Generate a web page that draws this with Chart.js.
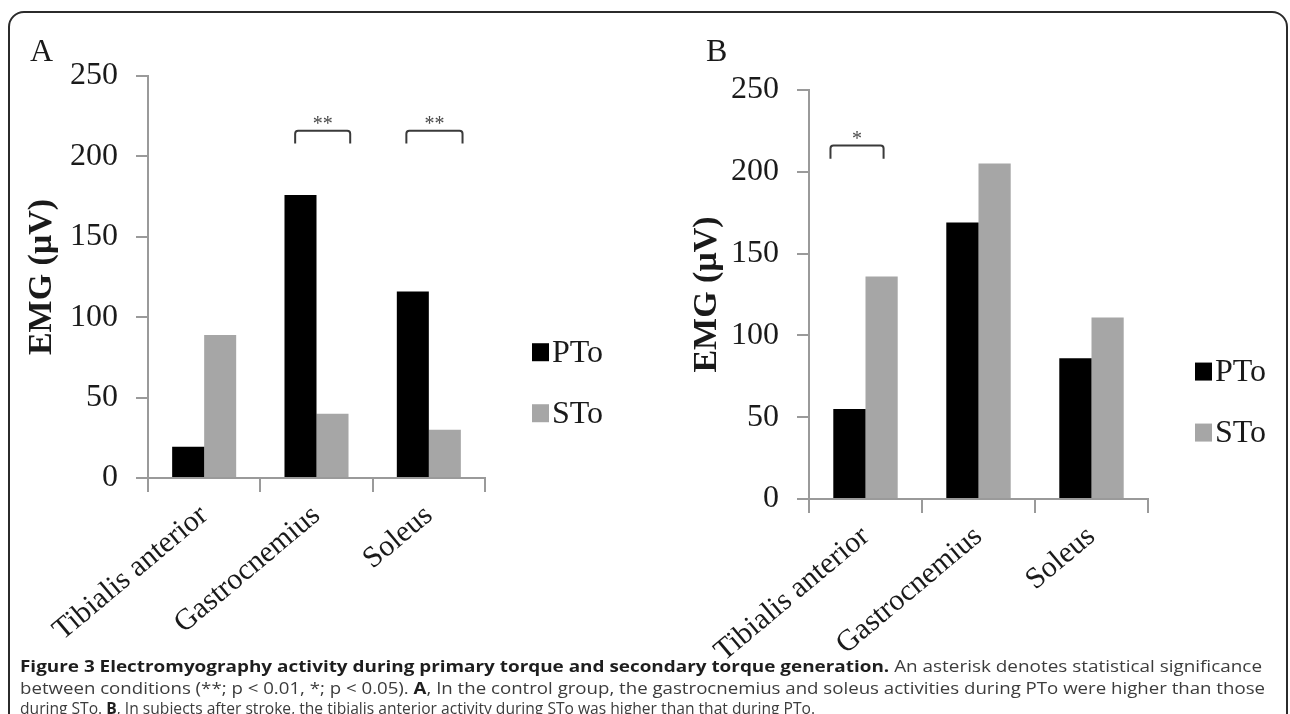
<!DOCTYPE html>
<html>
<head>
<meta charset="utf-8">
<script src="https://cdn.jsdelivr.net/npm/chart.js@4.4.1/dist/chart.umd.min.js"></script>
<style>
  html, body { margin: 0; padding: 0; background: #fff; width: 1290px; height: 714px; overflow: hidden; }
  #frame { position: absolute; left: 8px; top: 11px; width: 1280px; height: 800px; border: 2px solid #2b2b2b; border-radius: 16px; box-sizing: border-box; }
  canvas { position: absolute; top: 0; }
  #chartA { left: 0; }
  #chartB { left: 640px; }
  .panel-label { position: absolute; top: 34px; font: 32px "Liberation Serif", serif; line-height: 32px; color: #1a1a1a; }
  .cap { position: absolute; left: 20px; white-space: nowrap; font: 16px "Open Sans", sans-serif; line-height: 22px; color: #3c3c3c; transform-origin: 0 0; }
  .cap b { color: #1e1e1e; }
</style>
</head>
<body>
<div id="frame"></div>
<canvas id="chartA" width="640" height="680"></canvas>
<canvas id="chartB" width="650" height="680"></canvas>
<div class="panel-label" style="left:30px">A</div>
<div class="panel-label" style="left:706px">B</div>
<div class="cap" data-width="1242" style="top:655px"><b>Figure 3 Electromyography activity during primary torque and secondary torque generation.</b> An asterisk denotes statistical significance</div>
<div class="cap" data-width="1245" style="top:677px">between conditions (**; p &lt; 0.01, *; p &lt; 0.05). <b>A</b>, In the control group, the gastrocnemius and soleus activities during PTo were higher than those</div>
<div class="cap" data-width="795" style="top:697px">during STo. <b>B</b>, In subjects after stroke, the tibialis anterior activity during STo was higher than that during PTo.</div>
<script>
const categories = ["Tibialis anterior", "Gastrocnemius", "Soleus"];
const seriesNames = ["PTo", "STo"];
const seriesColors = ["#000000", "#a6a6a6"];

// panel A: control group
const controlPTo = [19.5, 176, 116];
const controlSTo = [89, 40, 30];
// panel B: subjects after stroke
const strokePTo = [55, 169, 86];
const strokeSTo = [136, 205, 111];

const yTicks = [0, 50, 100, 150, 200, 250];

// significance brackets: [category index, start offset, end offset] in category widths
const controlBrackets = [[1, -0.19, 0.30], [2, -0.20, 0.30]];
const controlStars = ["**", "**"];
const strokeBrackets = [[0, -0.31, 0.16]];
const strokeStars = ["*"];
const bracketLow = 208;
const bracketHigh = 216;

const serif = "'Liberation Serif', 'Times New Roman', serif";
const axisGray = "#9a9a9a";

const sideLegend = {
  id: "sideLegend",
  afterDraw(chart, args, opts) {
    const { ctx, chartArea } = chart;
    const mid = chartArea.top + opts.anchor * (chartArea.bottom - chartArea.top);
    ctx.save();
    chart.data.datasets.forEach((ds, i) => {
      const y = mid + (i - 0.5) * opts.spacing;
      const x = chartArea.right + opts.offsetX;
      ctx.fillStyle = ds.backgroundColor;
      ctx.fillRect(x, y - 9, 17, 18);
      ctx.fillStyle = "#1a1a1a";
      ctx.font = "32px " + serif;
      ctx.textBaseline = "middle";
      ctx.textAlign = "left";
      ctx.fillText(ds.label, x + 20, y + 1);
    });
    ctx.restore();
  },
};

const brackets = {
  id: "brackets",
  afterDatasetsDraw(chart, args, opts) {
    const { ctx } = chart;
    const xs = chart.scales.x;
    const ys = chart.scales.y;
    const step = xs.getPixelForValue(1) - xs.getPixelForValue(0);
    const top = ys.getPixelForValue(bracketHigh);
    const low = ys.getPixelForValue(bracketLow);
    const r = 3;
    ctx.save();
    ctx.strokeStyle = "#3a3a3a";
    ctx.lineWidth = 2;
    opts.items.forEach(([idx, a, b], i) => {
      const c = xs.getPixelForValue(idx);
      const x1 = c + a * step;
      const x2 = c + b * step;
      ctx.beginPath();
      ctx.moveTo(x1, low);
      ctx.lineTo(x1, top + r);
      ctx.quadraticCurveTo(x1, top, x1 + r, top);
      ctx.lineTo(x2 - r, top);
      ctx.quadraticCurveTo(x2, top, x2, top + r);
      ctx.lineTo(x2, low);
      ctx.stroke();
      ctx.fillStyle = "#4a4a4a";
      ctx.font = "20px " + serif;
      ctx.textAlign = "center";
      ctx.textBaseline = "alphabetic";
      ctx.fillText(opts.labels[i], (x1 + x2) / 2, top - 1);
    });
    ctx.restore();
  },
};

function buildChart(id, pto, sto, cfg) {
  const ctx = document.getElementById(id).getContext("2d");
  return new Chart(ctx, {
    type: "bar",
    data: {
      labels: categories,
      datasets: [
        { label: seriesNames[0], data: pto, backgroundColor: seriesColors[0] },
        { label: seriesNames[1], data: sto, backgroundColor: seriesColors[1] },
      ],
    },
    options: {
      responsive: false,
      animation: false,
      layout: { padding: cfg.padding },
      categoryPercentage: 0.57,
      barPercentage: 1.0,
      plugins: {
        legend: { display: false },
        tooltip: { enabled: false },
        sideLegend: { anchor: 0.763, spacing: 61, offsetX: 47 },
        brackets: { items: cfg.brackets, labels: cfg.stars },
      },
      scales: {
        x: {
          offset: true,
          grid: { offset: true, drawOnChartArea: false, drawTicks: true, tickLength: 14, color: axisGray, lineWidth: 2 },
          border: { color: axisGray, width: 2 },
          ticks: { color: "#1a1a1a", font: { family: serif, size: 30 }, minRotation: 40, maxRotation: 40, padding: 6, autoSkip: false },
          afterFit: (scale) => { scale.height = 175; },
        },
        y: {
          min: 0,
          max: 250,
          afterBuildTicks: (scale) => { scale.ticks = yTicks.map((v) => ({ value: v })); },
          grid: { drawOnChartArea: false, drawTicks: true, tickLength: 12, color: axisGray, lineWidth: 2 },
          border: { color: axisGray, width: 2 },
          ticks: { color: "#1a1a1a", font: { family: serif, size: 32 }, padding: 18 },
          title: { display: true, text: "EMG (\u03bcV)", color: "#1a1a1a", font: { family: serif, size: 34, weight: "bold" }, padding: { top: cfg.titlePad, bottom: 0 } },
          afterFit: (scale) => { scale.width = 130; },
        },
      },
    },
    plugins: [sideLegend, brackets],
  });
}

buildChart("chartA", controlPTo, controlSTo, {
  padding: { top: 76, left: 18, right: 155, bottom: 27 },
  titlePad: 4,
  brackets: controlBrackets,
  stars: controlStars,
});

buildChart("chartB", strokePTo, strokeSTo, {
  padding: { top: 90, left: 39, right: 142, bottom: 6 },
  titlePad: 8,
  brackets: strokeBrackets,
  stars: strokeStars,
});

// squeeze caption lines to the width they take in the figure
document.querySelectorAll(".cap").forEach((el) => {
  const target = Number(el.dataset.width);
  const w = el.getBoundingClientRect().width;
  el.style.transform = `scaleX(${target / w})`;
});
</script>
</body>
</html>
